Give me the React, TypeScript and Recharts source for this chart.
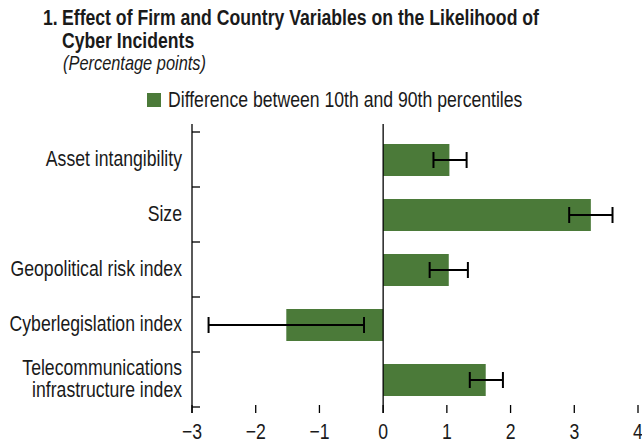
import React from 'react';
import { BarChart, Bar, XAxis, YAxis, ErrorBar, ReferenceLine } from 'recharts';

const categories = [
  'Asset intangibility',
  'Size',
  'Geopolitical risk index',
  'Cyberlegislation index',
  'Telecommunications\ninfrastructure index',
];
const values = [1.04, 3.26, 1.03, -1.52, 1.61];
const lowBounds = [0.79, 2.92, 0.73, -2.74, 1.36];
const highBounds = [1.31, 3.6, 1.33, -0.3, 1.88];
const xTicks = [-3, -2, -1, 0, 1, 2, 3, 4];

const data = categories.map((name, i) => ({
  name,
  value: values[i],
  err: [values[i] - lowBounds[i], highBounds[i] - values[i]],
}));

// no narrow font installed, so squeeze Liberation Sans like Arial Narrow
const FONT = "'Liberation Sans', Arial, sans-serif";
const SQUEEZE = 0.82;
const GREEN = '#4b7a39';
const INK = '#1a1a1a';

const fmt = (v: number) => (v < 0 ? `\u2212${-v}` : `${v}`);

function NarrowText({ x, y, size, anchor = 'start', weight, italic, children }: any) {
  return (
    <text
      transform={`translate(${x} ${y}) scale(${SQUEEZE} 1)`}
      textAnchor={anchor}
      fontSize={size}
      fontFamily={FONT}
      fontWeight={weight}
      fontStyle={italic ? 'italic' : undefined}
      fill={INK}
    >
      {children}
    </text>
  );
}

function CategoryTick(props: any) {
  const { x, y, payload, index } = props;
  const lines = String(payload.value).split('\n');
  const half = payload.offset ?? 0;
  const axisX = x + 10;
  const lh = 21.5;
  const first = -((lines.length - 1) * lh) / 2 + 6.3;
  return (
    <g>
      <line x1={axisX} x2={axisX + 8} y1={y - half} y2={y - half} stroke="#000" strokeWidth={1.3} />
      {index === data.length - 1 && (
        <line x1={axisX} x2={axisX + 8} y1={y + half} y2={y + half} stroke="#000" strokeWidth={1.3} />
      )}
      <NarrowText x={x} y={y} size={21.5} anchor="end">
        {lines.map((l, i) => (
          <tspan key={i} x={0} dy={i === 0 ? first : lh}>
            {l}
          </tspan>
        ))}
      </NarrowText>
    </g>
  );
}

function ValueTick(props: any) {
  const { x, y, payload } = props;
  return (
    <NarrowText x={x} y={y + 15.5} size={21.5} anchor="middle">
      {fmt(payload.value)}
    </NarrowText>
  );
}

export default function App() {
  return (
    <div style={{ position: 'absolute', left: 0, top: 0, width: 642, height: 445, background: '#fff' }}>
      <div style={{ position: 'absolute', left: 0, top: 0 }}>
        <BarChart
          width={642}
          height={445}
          data={data}
          layout="vertical"
          margin={{ top: 123, right: 4, bottom: 0, left: 0 }}
        >
          <XAxis
            xAxisId="top"
            orientation="top"
            type="number"
            domain={[-3, 4]}
            ticks={xTicks}
            interval={0}
            height={1}
            tick={false}
            axisLine={false}
            tickLine={{ stroke: '#000', strokeWidth: 1.3 }}
            tickSize={-8}
          />
          <XAxis
            xAxisId="bottom"
            orientation="bottom"
            type="number"
            domain={[-3, 4]}
            ticks={xTicks}
            interval={0}
            height={32}
            axisLine={false}
            tickLine={{ stroke: '#000', strokeWidth: 1.3 }}
            tickSize={-8}
            tickMargin={18}
            tick={<ValueTick />}
          />
          <YAxis
            yAxisId="cat"
            type="category"
            dataKey="name"
            width={192}
            interval={0}
            tickLine={false}
            tickSize={0}
            tickMargin={10}
            axisLine={{ stroke: '#000', strokeWidth: 1.3 }}
            padding={{ top: 8, bottom: 6 }}
            tick={<CategoryTick />}
          />
          <Bar xAxisId="bottom" yAxisId="cat" dataKey="value" fill={GREEN} barSize={32} isAnimationActive={false}>
            <ErrorBar dataKey="err" direction="x" width={8} stroke="#000" strokeWidth={2} />
          </Bar>
          <ReferenceLine xAxisId="bottom" yAxisId="cat" x={0} stroke="#000" strokeWidth={1.3} />
        </BarChart>
      </div>
      <svg width={642} height={120} style={{ position: 'absolute', left: 0, top: 0 }}>
        <NarrowText x={43} y={25} size={21.5} weight="bold">1.</NarrowText>
        <NarrowText x={62} y={25} size={21.5} weight="bold">
          Effect of Firm and Country Variables on the Likelihood of
        </NarrowText>
        <NarrowText x={62} y={48} size={21.5} weight="bold">Cyber Incidents</NarrowText>
        <NarrowText x={63} y={70} size={20} italic>(Percentage points)</NarrowText>
        <rect x={147} y={93} width={14} height={14} fill={GREEN} />
        <NarrowText x={168} y={106.5} size={21.5}>Difference between 10th and 90th percentiles</NarrowText>
      </svg>
    </div>
  );
}
